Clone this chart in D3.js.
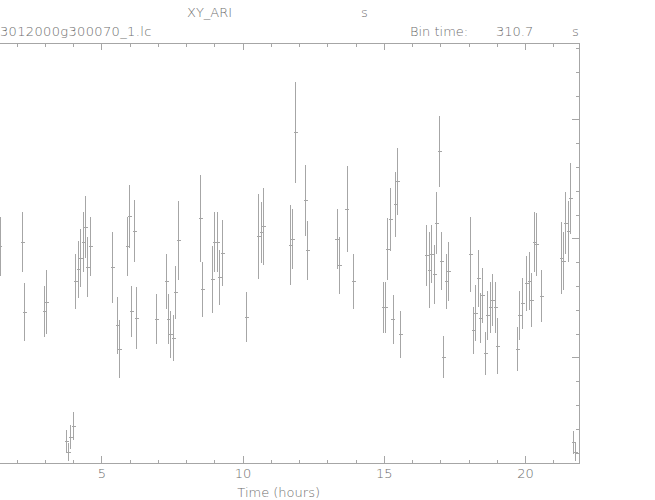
<!DOCTYPE html>
<html><head><meta charset="utf-8">
<script src="https://cdn.jsdelivr.net/npm/d3@7/dist/d3.min.js"></script>
<style>
html,body{margin:0;padding:0;background:#fff;}
svg{display:block;}
text{font-family:"DejaVu Sans","Liberation Sans",sans-serif;font-weight:200;fill:#6e6e6e;}
</style></head><body>
<svg id="c" width="655" height="500"></svg>
<script>
// Light curve: time (hours), count rate, 1-sigma error
const timeHours = [1.414,2.204,2.274,2.982,3.053,3.761,3.832,3.903,4.009,4.080,4.186,4.257,4.363,4.434,4.504,4.611,
 5.389,5.566,5.637,5.920,5.991,6.062,6.168,6.239,6.947,7.301,7.372,7.442,7.549,7.619,7.726,8.504,8.575,8.929,9.000,
 9.106,9.177,9.283,10.133,10.558,10.664,10.735,11.690,11.761,11.867,12.221,12.292,13.333,13.425,13.687,13.920,
 14.982,15.053,15.124,15.230,15.315,15.407,15.478,15.584,16.504,16.611,16.681,16.788,16.858,16.965,17.035,17.106,
 17.212,17.283,18.062,18.168,18.239,18.345,18.416,18.487,18.593,18.664,18.770,18.841,18.947,19.018,19.726,19.796,
 19.903,20.044,20.150,20.221,20.327,20.398,20.575,21.283,21.354,21.425,21.531,21.602,21.708,21.779];
const rate = [1.933,1.966,1.378,1.387,1.462,0.294,0.202,0.328,0.420,1.639,1.739,1.832,1.966,2.092,1.756,1.933,
 1.756,1.269,1.067,1.933,2.185,1.387,2.059,1.328,1.319,1.639,1.319,1.193,1.160,1.546,1.983,2.168,1.571,1.655,1.966,
 1.966,1.672,1.874,1.336,2.017,2.050,2.101,1.941,1.992,2.891,2.319,1.899,1.992,1.773,2.244,1.639,
 1.420,1.420,1.908,2.160,1.319,2.286,2.479,1.193,1.857,1.731,1.866,1.697,2.126,2.731,1.807,1.000,
 1.639,1.723,1.866,1.227,1.370,1.664,1.328,1.521,1.034,1.353,1.420,1.479,1.420,1.092,1.067,1.353,
 1.454,1.622,1.639,1.479,1.966,1.950,1.513,1.832,1.807,2.126,2.059,2.336,0.286,0.202];
const rateErr = [0.250,0.252,0.245,0.213,0.269,0.094,0.076,0.101,0.118,0.231,0.237,0.242,0.252,0.261,0.251,0.250,
 0.296,0.240,0.245,0.250,0.265,0.213,0.261,0.261,0.211,0.231,0.209,0.197,0.193,0.223,0.331,0.364,0.234,0.282,0.252,
 0.252,0.231,0.279,0.211,0.357,0.258,0.325,0.337,0.252,0.426,0.297,0.247,0.252,0.237,0.361,0.229,
 0.216,0.212,0.262,0.263,0.208,0.271,0.280,0.196,0.255,0.319,0.244,0.250,0.261,0.297,0.242,0.176,
 0.231,0.248,0.315,0.199,0.235,0.239,0.210,0.233,0.182,0.206,0.212,0.217,0.212,0.235,0.185,0.208,
 0.216,0.231,0.244,0.226,0.251,0.263,0.220,0.304,0.242,0.261,0.256,0.300,0.095,0.076];
const binTimeSec = 310.7;
const xMajorTicks = [5,10,15,20];
const xMinorTicks = d3.range(1,22);
const yMajorTicks = [1,2,3];
const yMinorTicks = d3.range(0.2,3.61,0.2);
const titleTop = ["XY_ARI", "s"];
const titleLeft = "3012000g300070_1.lc";
const binLabel = ["Bin time:", "310.7", "s"];
const xLabel = "Time (hours)";

const svg = d3.select("#c");
const frame = {left:-60, right:579.3, top:43.3, bottom:463.3};
const x = d3.scaleLinear().domain([0, 21.92]).range([-39.95, 579.3]);
const y = d3.scaleLinear().domain([1 - 106/119, 3 + 76/119]).range([463.3, 43.3]);
const grey = "#a6a6a6";

svg.append("defs").append("clipPath").attr("id","clip")
  .append("rect").attr("x",frame.left).attr("y",frame.top)
  .attr("width",frame.right-frame.left).attr("height",frame.bottom-frame.top);

function styleAxis(g){
  g.selectAll(".domain").attr("stroke",grey);
  g.selectAll(".tick line").attr("stroke",grey);
  g.attr("shape-rendering","crispEdges");
}
const minorLen = 3.5, majorLen = 7;
svg.append("g").attr("transform",`translate(0,${frame.bottom})`)
  .call(d3.axisBottom(x).tickValues(xMinorTicks).tickSize(-minorLen).tickSizeOuter(0).tickFormat(""))
  .call(styleAxis);
const xb = svg.append("g").attr("transform",`translate(0,${frame.bottom})`)
  .call(d3.axisBottom(x).tickValues(xMajorTicks).tickSize(-majorLen).tickSizeOuter(0).tickPadding(5).tickFormat(d3.format("d")))
  .call(styleAxis);
xb.select(".domain").remove();
xb.selectAll(".tick text").attr("font-size",13).attr("fill","#6e6e6e")
  .attr("font-family","DejaVu Sans, Liberation Sans, sans-serif").attr("font-weight",200);
svg.append("g").attr("transform",`translate(0,${frame.top})`)
  .call(d3.axisTop(x).tickValues(xMinorTicks).tickSize(-minorLen).tickSizeOuter(0).tickFormat(""))
  .call(styleAxis);
svg.append("g").attr("transform",`translate(0,${frame.top})`)
  .call(d3.axisTop(x).tickValues(xMajorTicks).tickSize(-majorLen).tickSizeOuter(0).tickFormat(""))
  .call(styleAxis).select(".domain").remove();
svg.append("g").attr("transform",`translate(${frame.right},0)`)
  .call(d3.axisRight(y).tickValues(yMinorTicks).tickSize(-minorLen).tickSizeOuter(0).tickFormat(""))
  .call(styleAxis);
svg.append("g").attr("transform",`translate(${frame.right},0)`)
  .call(d3.axisRight(y).tickValues(yMajorTicks).tickSize(-majorLen).tickSizeOuter(0).tickFormat(""))
  .call(styleAxis).select(".domain").remove();

const data = timeHours.map((t,i)=>({t, r:rate[i], e:rateErr[i]}));
const halfBin = binTimeSec/3600/2;
const pts = svg.append("g").attr("clip-path","url(#clip)")
  .attr("stroke",grey).attr("stroke-width",1).attr("shape-rendering","crispEdges");
pts.selectAll("line.ey").data(data).join("line").attr("class","ey")
  .attr("x1",d=>Math.round(x(d.t))+0.5).attr("x2",d=>Math.round(x(d.t))+0.5)
  .attr("y1",d=>y(d.r+d.e)).attr("y2",d=>y(d.r-d.e));
pts.selectAll("line.ex").data(data).join("line").attr("class","ex")
  .attr("x1",d=>x(d.t-halfBin)).attr("x2",d=>x(d.t+halfBin)+1)
  .attr("y1",d=>Math.round(y(d.r))+0.5).attr("y2",d=>Math.round(y(d.r))+0.5);

const fs = 13;
svg.append("text").attr("x",187).attr("y",17).attr("font-size",fs).text(titleTop[0]);
svg.append("text").attr("x",361).attr("y",17).attr("font-size",fs).text(titleTop[1]);
svg.append("text").attr("x",0).attr("y",36).attr("font-size",fs).attr("letter-spacing",0.35).text(titleLeft);
svg.append("text").attr("x",410).attr("y",36).attr("font-size",fs).text(binLabel[0]);
svg.append("text").attr("x",496).attr("y",36).attr("font-size",fs).text(binLabel[1]);
svg.append("text").attr("x",572).attr("y",36).attr("font-size",fs).text(binLabel[2]);
svg.append("text").attr("x",(x(0)+x(21.92))/2+9).attr("y",497).attr("font-size",fs)
  .attr("text-anchor","middle").text(xLabel);
</script></body></html>
